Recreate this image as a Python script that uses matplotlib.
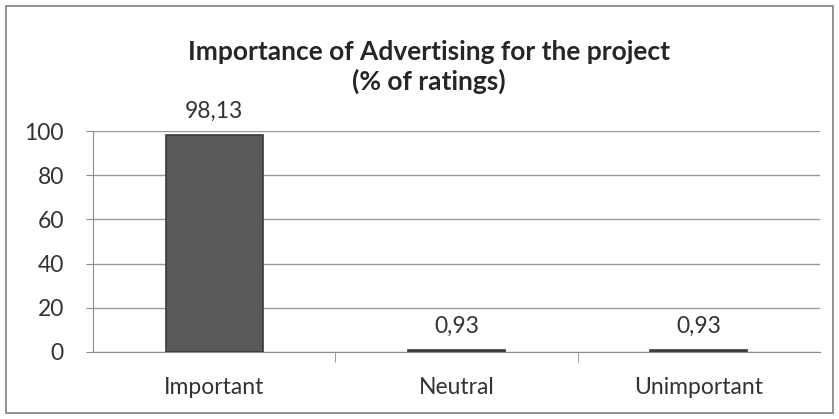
import numpy as np
import matplotlib.pyplot as plt
from matplotlib.patches import Rectangle

# datos del grafico
categorias = ['Important', 'Neutral', 'Unimportant']
valores = [98.13, 0.93, 0.93]
etiquetas = ['98,13', '0,93', '0,93']
yticks = [0, 20, 40, 60, 80, 100]

plt.rcParams['font.family'] = ['Lato', 'DejaVu Sans']

fig = plt.figure(figsize=(8.39, 4.19), dpi=100)
ax = fig.add_axes([0.111, 0.160, 0.866, 0.527])

# marco exterior del grafico
fig.patches.append(Rectangle((0.007, 0.014), 0.986, 0.972, transform=fig.transFigure,
                             fill=False, edgecolor='#7f7f7f', linewidth=1.2))

x = np.arange(len(categorias))
ax.bar(x, valores, width=0.4, color='#595959', edgecolor='#3a3a3a', linewidth=1.2, zorder=3)

for xi, v, lab in zip(x, valores, etiquetas):
    ax.text(xi, v + 6, lab, ha='center', va='bottom', fontsize=16.5, color='#333333')

ax.set_xlim(-0.5, 2.5)
ax.set_ylim(0, 100)
ax.set_yticks(yticks)
ax.set_yticklabels([str(v) for v in yticks], fontsize=16.5, color='#333333')
ax.set_xticks(x)
ax.set_xticklabels(categorias, fontsize=16.5, color='#333333')
ax.tick_params(axis='x', length=0, pad=18)
ax.tick_params(axis='y', length=5, color='#8c8c8c', pad=16)
ax.set_xticks([0.5, 1.5], minor=True)
ax.tick_params(axis='x', which='minor', length=7, color='#8c8c8c', direction='out')

ax.grid(axis='y', color='#9a9a9a', linewidth=1.0, zorder=0)
for s in ['top', 'right']:
    ax.spines[s].set_visible(False)
ax.spines['left'].set_color('#8c8c8c')
ax.spines['bottom'].set_color('#8c8c8c')

fig.text(0.511, 0.84, 'Importance of Advertising for the project\n(% of ratings)',
         ha='center', va='center', fontsize=19, fontweight='bold', color='#262626',
         linespacing=1.25)

fig.savefig('out.png', dpi=100)
